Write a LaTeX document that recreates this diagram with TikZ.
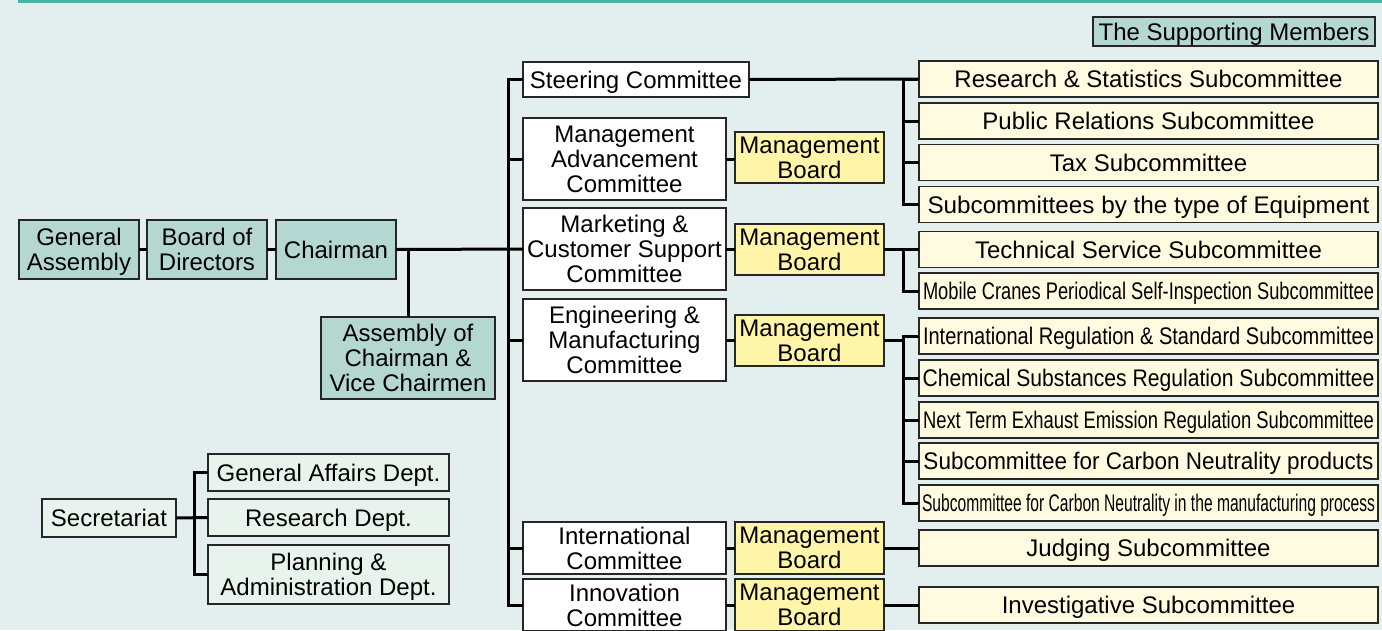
\documentclass[tikz,border=0pt]{standalone}
\usepackage{fontspec}
\setmainfont{Liberation Sans}
\usepackage{graphicx}
\usetikzlibrary{calc}
\definecolor{bgc}{HTML}{E3EFEE}
\definecolor{topc}{HTML}{4FB0A5}
\definecolor{tealc}{HTML}{B4D7D2}
\definecolor{mbc}{HTML}{FFF5A8}
\definecolor{subc}{HTML}{FFFBE0}
\definecolor{depc}{HTML}{E9F3EE}
\newcommand{\fitw}[2]{\resizebox{#1}{\height}{#2}}
\begin{document}
\begin{tikzpicture}[x=1pt,y=-1pt,
  box/.style={draw=black!85, line width=1.4pt, inner sep=0pt, outer sep=0pt, align=center,
    text depth=0pt, font=\fontsize{24}{25}\selectfont},
  tealbox/.style={box, fill=tealc},
  combox/.style={box, fill=white, minimum width=203pt},
  mbbox/.style={box, fill=mbc, minimum width=149pt, minimum height=51pt},
  subbox/.style={box, fill=subc, minimum width=459pt, minimum height=36pt},
  depbox/.style={box, fill=depc},
  conn/.style={line width=3pt, black}]
\clip (0,0) rectangle (1382,630);
\fill[bgc] (0,0) rectangle (1382,630);
\draw[topc, line width=3pt] (18,1.5) -- (1382,1.5);

% supporting members
\node[tealbox, minimum width=282pt, minimum height=29pt] (sup) at (1234,31.5) {The Supporting Members};

% left chain
\node[tealbox, minimum width=120pt, minimum height=59pt] (ga) at (79,249.5) {General\\Assembly};
\node[tealbox, minimum width=120pt, minimum height=59pt] (bod) at (207,249.5) {Board of\\Directors};
\node[tealbox, minimum width=120pt, minimum height=59pt] (chair) at (336,249.5) {Chairman};
\node[tealbox, minimum width=174pt, minimum height=82pt] (acv) at (408,358) {Assembly of\\Chairman \&\\Vice Chairmen};

% secretariat
\node[depbox, minimum width=134pt, minimum height=38pt] (sec) at (109,518) {Secretariat};
\node[depbox, minimum width=241pt, minimum height=37pt] (gad) at (328.5,472.5) {General Affairs Dept.};
\node[depbox, minimum width=241pt, minimum height=37pt] (rd) at (328.5,517.5) {Research Dept.};
\node[depbox, minimum width=241pt, minimum height=59pt] (pad) at (328.5,574.5) {Planning \&\\Administration Dept.};

% committees
\node[box, fill=white, minimum width=226pt, minimum height=35pt] (steer) at (636,79.5) {Steering Committee};
\node[combox, minimum height=82pt] (mac) at (624.5,159) {Management\\Advancement\\Committee};
\node[combox, minimum height=82pt] (mcs) at (624.5,249) {Marketing \&\\Customer Support\\Committee};
\node[combox, minimum height=82pt] (emc) at (624.5,340) {Engineering \&\\Manufacturing\\Committee};
\node[combox, minimum height=52pt] (ic) at (624.5,548) {International\\Committee};
\node[combox, minimum height=52pt] (inc) at (624.5,605) {Innovation\\Committee};

% management boards
\node[mbbox] (mb1) at (809.5,157.5) {Management\\Board};
\node[mbbox] (mb2) at (809.5,249.5) {Management\\Board};
\node[mbbox] (mb3) at (809.5,340.5) {Management\\Board};
\node[mbbox, minimum height=52pt] (mb4) at (809.5,548) {Management\\Board};
\node[mbbox, minimum height=52pt] (mb5) at (809.5,605) {Management\\Board};

% subcommittees
\node[subbox] (s1) at (1148.5,79) {Research \& Statistics Subcommittee};
\node[subbox] (s2) at (1148.5,121) {Public Relations Subcommittee};
\node[subbox] (s3) at (1148.5,162.5) {Tax Subcommittee};
\node[subbox] (s4) at (1148.5,204.5) {\fitw{442pt}{Subcommittees by the type of Equipment}};
\node[subbox] (s5) at (1148.5,249.5) {Technical Service Subcommittee};
\node[subbox] (s6) at (1148.5,291) {\fitw{451pt}{Mobile Cranes Periodical Self-Inspection Subcommittee}};
\node[subbox] (s7) at (1148.5,336) {\fitw{451pt}{International Regulation \& Standard Subcommittee}};
\node[subbox] (s8) at (1148.5,378) {\fitw{452pt}{Chemical Substances Regulation Subcommittee}};
\node[subbox] (s9) at (1148.5,420) {\fitw{451pt}{Next Term Exhaust Emission Regulation Subcommittee}};
\node[subbox] (s10) at (1148.5,461) {\fitw{450pt}{Subcommittee for Carbon Neutrality products}};
\node[subbox] (s11) at (1148.5,503) {\fitw{453pt}{Subcommittee for Carbon Neutrality in the manufacturing process}};
\node[subbox] (s12) at (1148.5,548) {Judging Subcommittee};
\node[subbox] (s13) at (1148.5,605) {Investigative Subcommittee};

% connectors: left chain
\draw[conn] (ga.east) -- (bod.west);
\draw[conn] (bod.east) -- (chair.west);
\draw[conn] (chair.east) -- (mcs.west);
\draw[conn] (acv.north) -- (acv.north |- chair.east);

% main trunk
\draw[conn] (steer.west) -- ++(-15,0) |- (inc.west);
\foreach \n in {mac,emc,ic} \draw[conn] (\n.west) -- ++(-15,0);

% committees to boards
\draw[conn] (mac.east) -- (mac.east -| mb1.west);
\draw[conn] (mcs.east) -- (mcs.east -| mb2.west);
\draw[conn] (emc.east) -- (emc.east -| mb3.west);
\draw[conn] (ic.east) -- (ic.east -| mb4.west);
\draw[conn] (inc.east) -- (inc.east -| mb5.west);

% steering subcommittees
\draw[conn] (steer.east) -- (s1.west);
\draw[conn] (s1.west) -- ++(-16,0) |- (s4.west);
\foreach \n in {s2,s3} \draw[conn] (\n.west) -- ++(-16,0);

% MB2
\draw[conn] (mb2.east) -- (s5.west);
\draw[conn] (s5.west) -- ++(-16,0) |- (s6.west);

% MB3
\coordinate (j3) at ($(mb3.east -| s7.west)+(-16,0)$);
\draw[conn] (mb3.east) -- (j3);
\draw[conn] (s7.west) -- ++(-16,0) |- (s11.west);
\foreach \n in {s8,s9,s10} \draw[conn] (\n.west) -- ++(-16,0);

% MB4, MB5
\draw[conn] (mb4.east) -- (s12.west);
\draw[conn] (mb5.east) -- (s13.west);

% secretariat
\draw[conn] (sec.east) -- (rd.west);
\draw[conn] (gad.west) -- ++(-14,0) |- (pad.west);
\end{tikzpicture}
\end{document}
